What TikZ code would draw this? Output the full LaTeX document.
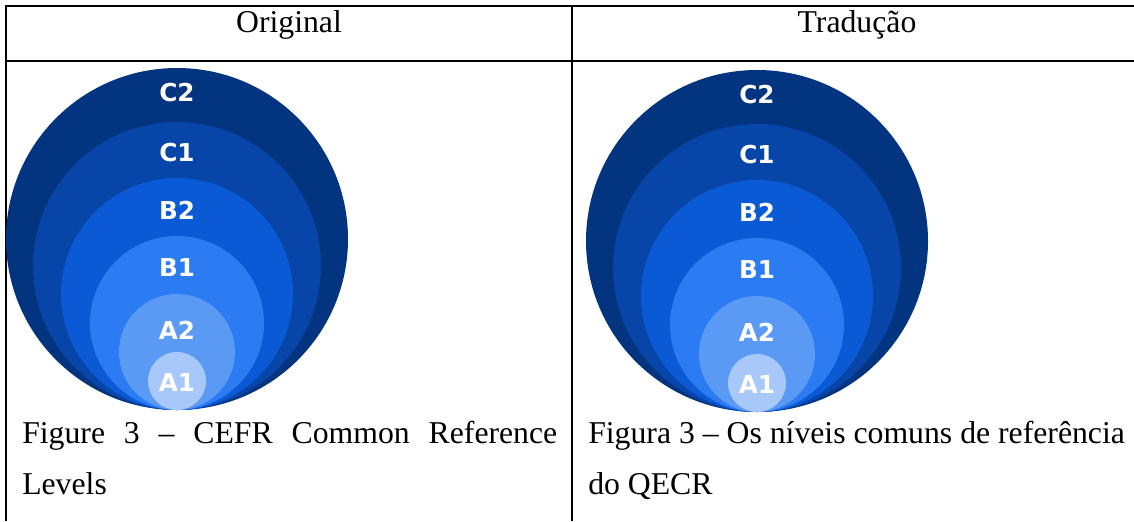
\documentclass[tikz,border=0pt]{standalone}
\usepackage{fontspec}
\setmainfont{Liberation Serif}
\newfontfamily\levelfont{DejaVu Sans}

\definecolor{lvCtwo}{HTML}{03347F}
\definecolor{lvCone}{HTML}{0745A8}
\definecolor{lvBtwo}{HTML}{0A59D5}
\definecolor{lvBone}{HTML}{2B7BF2}
\definecolor{lvAtwo}{HTML}{5A9AF5}
\definecolor{lvAone}{HTML}{A8C8F9}

\tikzset{
    rule/.style={line width=1.1pt},
    cell/.style={inner sep=0pt, font=\fontsize{23.8}{28}\selectfont},
    level/.style={inner sep=0pt, text=white, font=\levelfont\bfseries\fontsize{18.5}{20}\selectfont}
}

\begin{document}
\begin{tikzpicture}[x=0.75pt, y=-0.75pt]
    \def\F{0.75pt} % one pixel

    \useasboundingbox (0,0) rectangle (1134,521);

    % table rules
    \draw[rule] (6,521) -- (6,6) -- (1134,6);
    \draw[rule] (6,61) -- (1134,61);
    \draw[rule] (572,6) -- (572,521);

    \node[cell, anchor=base] (hdorig) at (289,32) {Original};
    \node[cell, anchor=base] (hdtrad) at (857,32) {Tradução};

    % nested circles, biggest first
    \foreach \dx/\dy [count=\p] in {0/0, 580/2} {
        \foreach \r/\col in {171/lvCtwo, 144/lvCone, 116/lvBtwo, 87/lvBone, 58/lvAtwo, 29/lvAone}
            \fill[\col] (177+\dx, 410+\dy-\r) circle[radius=\r*\F];
        \foreach \lab/\y in {C2/93, C1/153, B2/210, B1/268, A2/330, A1/383}
            \node[level] (\lab-\p) at (177+\dx, \y+\dy) {\lab};
    }

    \node[cell, anchor=base west] (capL) at (22,443)
        {\makebox[401.25pt][s]{Figure 3 – CEFR Common Reference}};
    \node[cell, anchor=base west] (capLb) at (22,494) {Levels};
    \node[cell, anchor=base west] (capR) at (588,443) {Figura 3 – Os níveis comuns de referência};
    \node[cell, anchor=base west] (capRb) at (588,494) {do QECR};
\end{tikzpicture}
\end{document}
